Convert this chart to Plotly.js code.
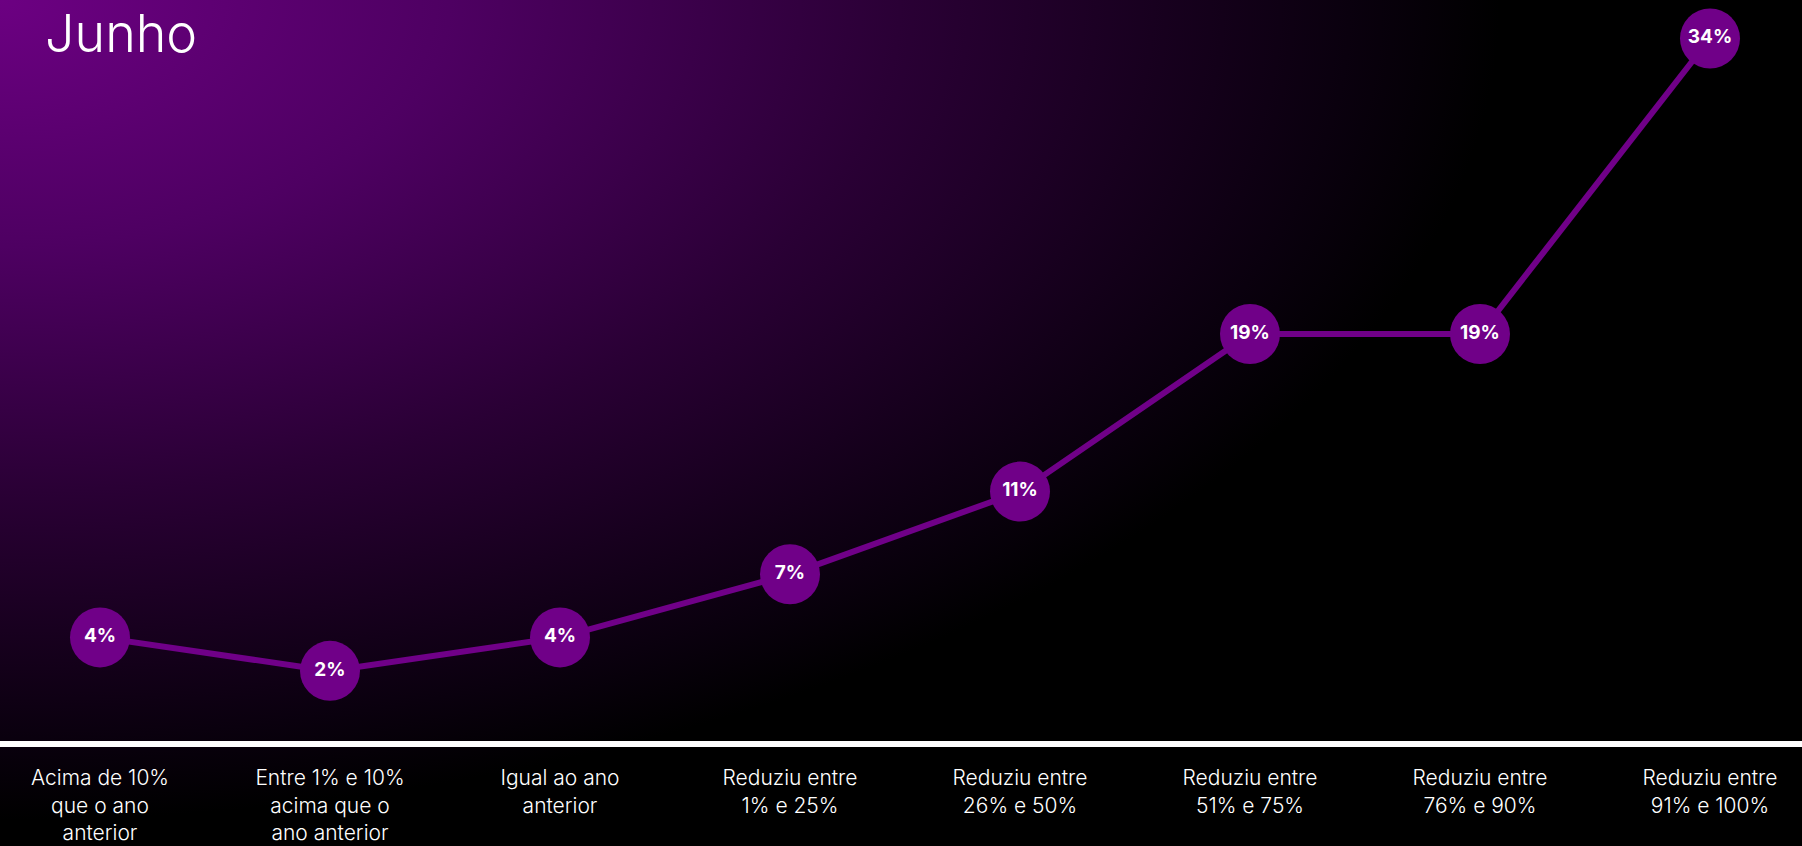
<!DOCTYPE html>
<html>
<head>
<meta charset="utf-8">
<script src="https://cdn.plot.ly/plotly-3.0.1.min.js"></script>
<style>
  html, body { margin: 0; padding: 0; background: #000; }
  #chart {
    width: 1802px; height: 846px;
    background: radial-gradient(ellipse 1500px 820px at 0 0, #6c0082 0%, #4e0062 30%, #2a0035 60%, #0a000e 90%, #000000 100%);
  }
</style>
</head>
<body>
<div id="chart"></div>
<script>
// Data
const categories = [
  "Acima de 10%<br>que o ano<br>anterior",
  "Entre 1% e 10%<br>acima que o<br>ano anterior",
  "Igual ao ano<br>anterior",
  "Reduziu entre<br>1% e 25%",
  "Reduziu entre<br>26% e 50%",
  "Reduziu entre<br>51% e 75%",
  "Reduziu entre<br>76% e 90%",
  "Reduziu entre<br>91% e 100%"
];
const values = [3.6, 1.9, 3.6, 6.8, 11.0, 19.0, 19.0, 34.0];
const chartTitle = "Junho";

const purple = "#700088";
const fontFamily = "Inter, 'Open Sans', sans-serif";

const trace = {
  type: "scatter",
  mode: "lines+markers+text",
  x: categories,
  y: values,
  line: { color: purple, width: 6 },
  marker: { color: purple, size: 60, line: { width: 0 } },
  texttemplate: "%{y:.0f}%",
  textposition: "middle center",
  textfont: { family: fontFamily, color: "#ffffff", size: 19, weight: 700 },
  cliponaxis: false,
  hoverinfo: "skip"
};

const layout = {
  width: 1802,
  height: 846,
  margin: { l: 0, r: 0, t: 0, b: 105, pad: 0 },
  paper_bgcolor: "rgba(0,0,0,0)",
  plot_bgcolor: "rgba(0,0,0,0)",
  showlegend: false,
  title: {
    text: chartTitle,
    x: 0.025, xanchor: "left", xref: "paper",
    y: 0.982, yanchor: "top", yref: "container",
    font: { family: fontFamily, size: 52, color: "#ffffff", weight: 300 }
  },
  xaxis: {
    type: "category",
    range: [-0.4348, 7.4],
    showgrid: false,
    zeroline: false,
    showline: true,
    linecolor: "#ffffff",
    linewidth: 6,
    ticks: "",
    ticklabelstandoff: 13,
    tickfont: { family: fontFamily, size: 21, color: "#ffffff", weight: 300 },
    fixedrange: true
  },
  yaxis: {
    range: [-1.66, 35.954],
    visible: false,
    showgrid: false,
    zeroline: false,
    fixedrange: true
  }
};

Plotly.newPlot("chart", [trace], layout, { displayModeBar: false, staticPlot: true });
</script>
</body>
</html>
